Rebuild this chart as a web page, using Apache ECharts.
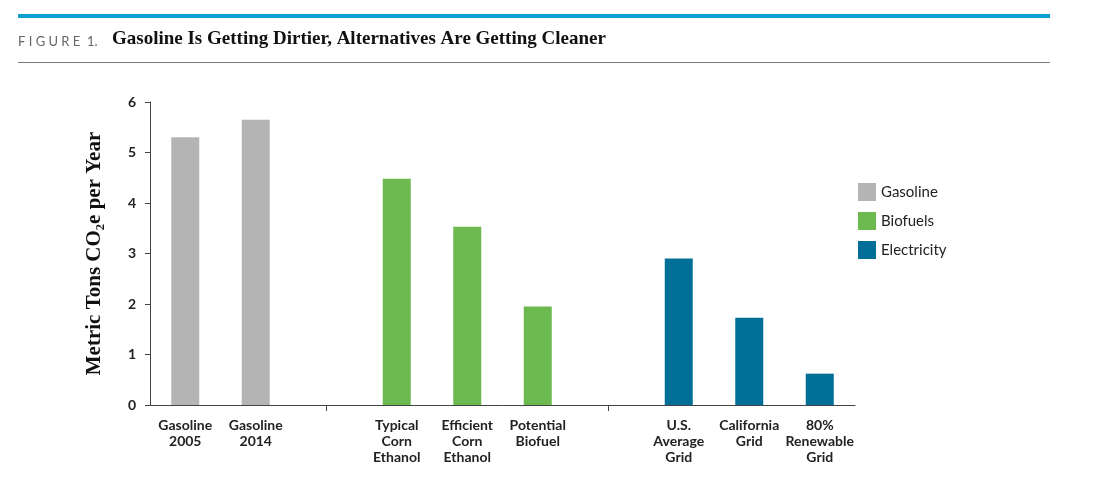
<!DOCTYPE html>
<html>
<head>
<meta charset="utf-8">
<script src="https://cdn.jsdelivr.net/npm/echarts@6/dist/echarts.min.js"></script>
<style>
  body { margin: 0; background: #fff; }
  #main { width: 1093px; height: 483px; }
</style>
</head>
<body>
<div id="main"></div>
<script>
// categories, blanks separate the three groups
var categories = ['Gasoline\n2005', 'Gasoline\n2014', '', 'Typical\nCorn\nEthanol', 'Efficient\nCorn\nEthanol',
                  'Potential\nBiofuel', '', 'U.S.\nAverage\nGrid', 'California\nGrid', '80%\nRenewable\nGrid'];
var gasoline = [5.3, 5.65, null, null, null, null, null, null, null, null];
var biofuels = [null, null, null, 4.48, 3.53, 1.95, null, null, null, null];
var electricity = [null, null, null, null, null, null, null, 2.9, 1.73, 0.62];
var yTicks = [0, 1, 2, 3, 4, 5, 6];

var myChart = echarts.init(document.getElementById('main'));

var sans = 'Lato';
var option = {
    graphic: [
        { type: 'rect', shape: { x: 18, y: 14, width: 1032, height: 4 }, style: { fill: '#0aa0d2' } },
        { type: 'rect', shape: { x: 18, y: 62, width: 1032, height: 1 }, style: { fill: '#777' } },
        { type: 'text', left: 18, top: 35, style: { text: 'F I G U R E  1.', font: '13px ' + sans, fill: '#666' } },
        { type: 'text', left: 112, top: 30, style: { text: 'Gasoline Is Getting Dirtier, Alternatives Are Getting Cleaner',
            font: 'bold 19px "Liberation Serif"', fill: '#111' } }
    ],
    legend: {
        orient: 'vertical',
        left: 853, top: 178,
        itemWidth: 18, itemHeight: 18, itemGap: 11,
        icon: 'rect',
        textStyle: { fontFamily: sans, fontSize: 15, color: '#222' },
        data: ['Gasoline', 'Biofuels', 'Electricity']
    },
    grid: { left: 150, right: 238, top: 102, bottom: 78 },
    xAxis: {
        type: 'category',
        data: categories,
        axisLine: { lineStyle: { color: '#444' } },
        axisTick: { show: true, alignWithLabel: true, length: 6, interval: function (i) { return categories[i] === ''; },
                    lineStyle: { color: '#444' } },
        axisLabel: { interval: 0, margin: 12, fontFamily: sans, fontWeight: 'bold', fontSize: 14, color: '#222', lineHeight: 16 }
    },
    yAxis: {
        type: 'value', min: 0, max: 6, interval: 1,
        name: 'Metric Tons CO₂e per Year',
        nameLocation: 'middle', nameGap: 45,
        nameTextStyle: { fontFamily: 'Liberation Serif', fontWeight: 'bold', fontSize: 21, color: '#111' },
        axisLine: { show: true, lineStyle: { color: '#444' } },
        axisTick: { show: true, length: 5, lineStyle: { color: '#444' } },
        splitLine: { show: false },
        axisLabel: { fontFamily: sans, fontWeight: 'bold', fontSize: 14, color: '#222', margin: 14,
                     formatter: function (v) { return yTicks.indexOf(v) >= 0 ? String(v) : ''; } }
    },
    series: [
        { name: 'Gasoline', type: 'bar', stack: 'all', barWidth: 28, data: gasoline, itemStyle: { color: '#b4b4b4' } },
        { name: 'Biofuels', type: 'bar', stack: 'all', barWidth: 28, data: biofuels, itemStyle: { color: '#6cb94f' } },
        { name: 'Electricity', type: 'bar', stack: 'all', barWidth: 28, data: electricity, itemStyle: { color: '#006f98' } }
    ]
};

myChart.setOption(option);
</script>
</body>
</html>
